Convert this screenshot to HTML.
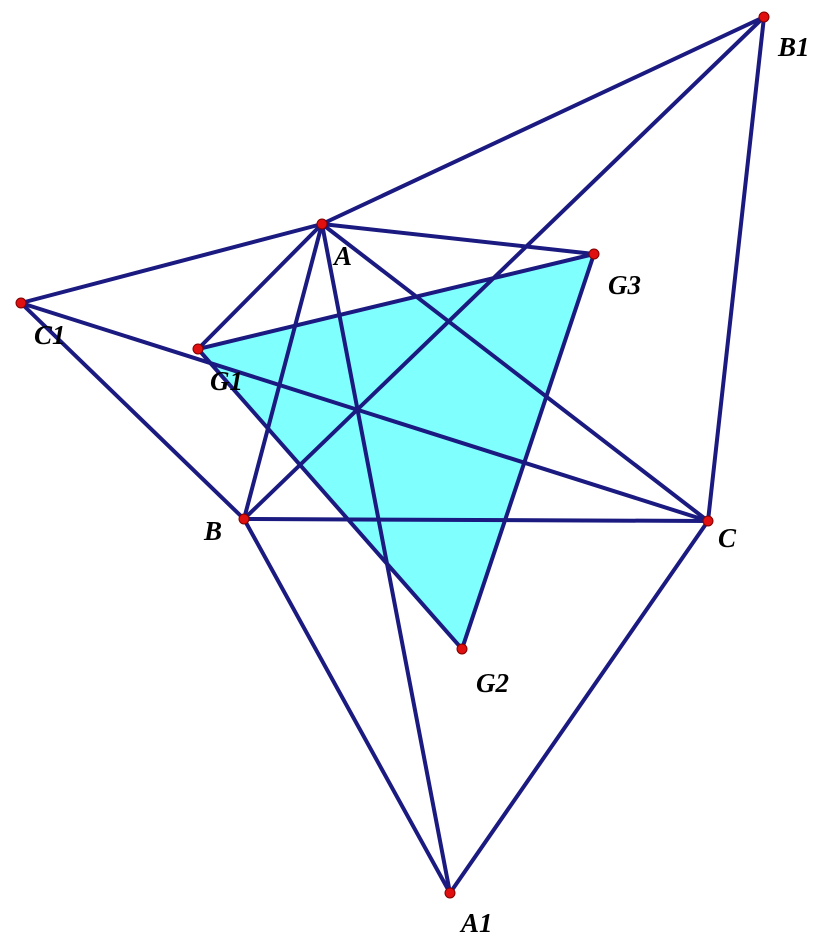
<!DOCTYPE html>
<html><head><meta charset="utf-8"><style>html,body{margin:0;padding:0;background:#fff}</style></head>
<body>
<svg width="823" height="945" xmlns="http://www.w3.org/2000/svg">
<polygon points="198,349 462,649 594,254" fill="#80ffff"/>
<g stroke="#1a1a80" stroke-width="4" fill="none" stroke-linecap="round">
<polygon points="198,349 462,649 594,254"/>
<line x1="322" y1="224" x2="244" y2="519"/>
<line x1="322" y1="224" x2="708" y2="521"/>
<line x1="244" y1="519" x2="708" y2="521"/>
<line x1="322" y1="224" x2="764" y2="17"/>
<line x1="764" y1="17" x2="708" y2="521"/>
<line x1="322" y1="224" x2="21" y2="303"/>
<line x1="21" y1="303" x2="244" y2="519"/>
<line x1="244" y1="519" x2="450" y2="893"/>
<line x1="450" y1="893" x2="708" y2="521"/>
<line x1="322" y1="224" x2="450" y2="893"/>
<line x1="244" y1="519" x2="764" y2="17"/>
<line x1="21" y1="303" x2="708" y2="521"/>
<line x1="322" y1="224" x2="198" y2="349"/>
<line x1="322" y1="224" x2="594" y2="254"/>
</g>
<g fill="#e01010" stroke="#800000" stroke-width="1">
<circle cx="322" cy="224" r="5"/><circle cx="244" cy="519" r="5"/><circle cx="708" cy="521" r="5"/>
<circle cx="450" cy="893" r="5"/><circle cx="764" cy="17" r="5"/><circle cx="21" cy="303" r="5"/>
<circle cx="198" cy="349" r="5"/><circle cx="462" cy="649" r="5"/><circle cx="594" cy="254" r="5"/>
</g>
<g font-family="Liberation Serif, serif" font-style="italic" font-weight="bold" font-size="27" fill="#000">
<text x="778" y="56">B1</text>
<text x="334" y="265">A</text>
<text x="608" y="294">G3</text>
<text x="34" y="344">C1</text>
<text x="210" y="390">G1</text>
<text x="204" y="540">B</text>
<text x="718" y="547">C</text>
<text x="476" y="692">G2</text>
<text x="461" y="932">A1</text>
</g>
</svg>
</body></html>
